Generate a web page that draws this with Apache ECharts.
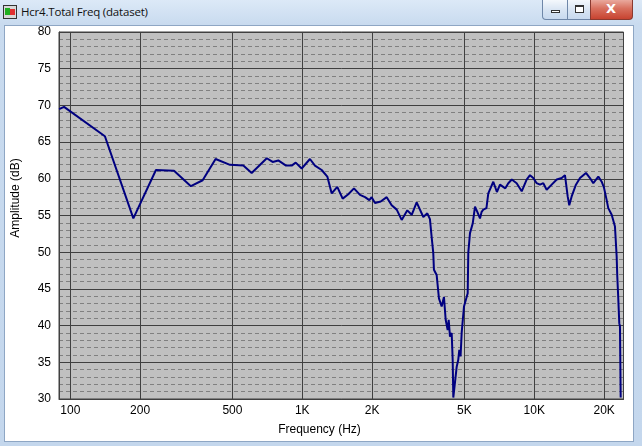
<!DOCTYPE html>
<html>
<head>
<meta charset="utf-8">
<script src="https://cdn.jsdelivr.net/npm/echarts@6/dist/echarts.min.js"></script>
<style>
  html,body{margin:0;padding:0;width:642px;height:446px;overflow:hidden;}
  body{background:linear-gradient(#dce9f7 0px,#c9dbef 24px,#c4d7ed 446px);position:relative;font-family:"Noto Sans","Liberation Sans",sans-serif;}
  #client{position:absolute;left:4px;top:25px;width:628px;height:415px;background:#fff;border:1px solid #8ea6c4;}
  #title{position:absolute;left:21px;top:4px;font-size:11.5px;letter-spacing:-0.2px;color:#111;font-family:"Open Sans","Noto Sans",sans-serif;}
  #icon{position:absolute;left:3px;top:5px;width:12px;height:12px;border:1px solid #333;background:#d8d8d8;}
  #icon:before{content:"";position:absolute;left:1px;top:2px;width:5px;height:7px;background:#20b020;}
  #icon:after{content:"";position:absolute;left:6px;top:3px;width:5px;height:6px;background:#e03030;}
  .btn{position:absolute;top:0px;height:20px;border:1px solid #6f87a8;border-top:none;background:linear-gradient(#f4f8fc,#d9e5f3 50%,#c8d9ee);box-sizing:border-box;}
  #bmin{left:542px;width:26px;border-radius:0 0 0 4px;}
  #bmax{left:567px;width:24px;}
  #bclose{left:590px;width:43px;border-radius:0 0 4px 0;background:linear-gradient(#e9a99d,#d8705e 45%,#c74330);border-color:#8a3a30;}
  #bmin:after{content:"";position:absolute;left:8px;top:10px;width:9px;height:3px;border:1px solid #333;background:#fff;box-sizing:border-box;}
  #bmax:after{content:"";position:absolute;left:7px;top:5px;width:9px;height:8px;border:1px solid #333;border-top-width:2px;background:#fff;box-sizing:border-box;}
  #bclose span{position:absolute;left:15px;top:1px;color:#fff;font:bold 13px "DejaVu Sans",sans-serif;}
  #chart{position:absolute;left:0;top:0;width:642px;height:446px;}
</style>
</head>
<body>
<div id="icon"></div>
<div id="title">Hcr4.Total Freq (dataset)</div>
<div class="btn" id="bmin"></div>
<div class="btn" id="bmax"></div>
<div class="btn" id="bclose"><span>X</span></div>
<div id="client"></div>
<div id="chart"></div>
<script>
// Frequency (Hz)
const freq = [89.5, 94, 141, 187, 234, 280, 331, 372, 423, 488, 557, 605, 703, 745, 788, 851, 900, 937, 994,
  1079, 1134, 1212, 1282, 1339, 1415, 1493, 1579, 1670, 1773, 1864, 1945, 1990, 2058, 2178, 2311, 2428, 2553,
  2682, 2836, 2962, 3112, 3324, 3459, 3550, 3612, 3669, 3694, 3794, 3882, 3988, 4080, 4150, 4233, 4276, 4331,
  4405, 4449, 4476, 4552, 4630, 4700, 4751, 4810, 4864, 4977, 5050, 5164, 5194, 5283, 5427, 5552, 5680, 5834,
  5930, 6029, 6220, 6335, 6658, 6900, 7115, 7500, 7727, 8000, 8395, 8826, 9270, 9583, 9900, 10240, 10580,
  10935, 11307, 11885, 12494, 13130, 13560, 13930, 14150, 14490, 15120, 15740, 16700, 17380, 17960, 18880,
  19520, 19970, 20510, 20840, 21560, 22270, 22650, 22790, 23000, 23250, 23400, 23570];
// Amplitude (dB)
const amplitude = [69.5, 69.8, 65.8, 54.6, 61.2, 61.1, 59.0, 59.8, 62.7, 61.9, 61.8, 60.8, 62.8, 62.3, 62.5, 61.8, 61.8, 62.2, 61.4,
  62.7, 61.8, 61.2, 60.3, 58.0, 58.9, 57.3, 57.9, 58.7, 57.8, 57.5, 57.1, 57.5, 56.7, 56.9, 57.5, 56.4, 55.8,
  54.4, 55.7, 55.1, 56.8, 54.8, 55.3, 54.5, 52.0, 49.9, 47.6, 46.9, 43.7, 42.6, 43.9, 40.8, 39.4, 40.8, 38.5,
  39.0, 35.3, 30.2, 30.2, 34.4, 35.3, 36.7, 35.8, 39.0, 42.6, 42.4, 44.4, 49.9, 52.6, 53.9, 56.2, 55.5, 54.6,
  55.5, 55.8, 56.0, 58.0, 59.6, 58.2, 59.2, 58.7, 59.4, 59.9, 59.4, 58.3, 59.9, 60.5, 60.1, 59.4, 59.2,
  59.4, 58.5, 59.2, 59.9, 60.1, 60.5, 57.6, 56.4, 57.6, 59.2, 60.1, 60.8, 60.1, 59.4, 60.3,
  59.6, 58.8, 57.1, 56.0, 55.1, 53.5, 49.4, 46.7, 43.9, 40.3, 39.9, 30.2];
// Tick labels
const xTicks = [100, 200, 500, 1000, 2000, 5000, 10000, 20000];
const xTickLabels = ['100', '200', '500', '1K', '2K', '5K', '10K', '20K'];
const yMin = 30, yMax = 80, yStep = 5;
const xMin = 89.4, xMax = 24240;

const chart = echarts.init(document.getElementById('chart'), null, {renderer: 'canvas'});
const font = '"Liberation Sans", Arial, sans-serif';
chart.setOption({
  backgroundColor: 'transparent',
  animation: false,
  grid: {left: 59, right: 18.5, top: 32, bottom: 47, show: true, backgroundColor: '#c0c0c0', borderColor: '#404040', borderWidth: 1},
  xAxis: {
    type: 'log', logBase: 10, min: xMin, max: xMax,
    axisLine: {show: true, onZero: false, lineStyle: {color: '#404040', width: 1}},
    axisTick: {show: false, customValues: xTicks},
    axisLabel: {customValues: xTicks, margin: 6, color: '#000', fontFamily: font, fontSize: 12,
      formatter: v => { const i = xTicks.findIndex(t => Math.abs(t - v) / t < 1e-6); return i >= 0 ? xTickLabels[i] : ''; }},
    splitLine: {show: true, lineStyle: {color: '#404040', width: 1, type: 'solid'}},
    minorTick: {show: false}, minorSplitLine: {show: false}
  },
  yAxis: {
    type: 'value', min: yMin, max: yMax, interval: yStep,
    axisLine: {show: true, lineStyle: {color: '#404040'}},
    axisTick: {show: false},
    axisLabel: {margin: 8, color: '#000', fontFamily: font, fontSize: 12},
    splitLine: {show: true, lineStyle: {color: '#404040', width: 1}},
    minorTick: {show: false, splitNumber: 5},
    minorSplitLine: {show: true, lineStyle: {color: '#808080', width: 1, type: [4, 3]}}
  },
  graphic: [
    {type: 'text', rotation: Math.PI / 2, x: 16, y: 198,
      style: {text: 'Amplitude (dB)', fill: '#000', font: '12px ' + font, align: 'center', verticalAlign: 'middle'}},
    {type: 'text', x: 319.5, y: 430,
      style: {text: 'Frequency (Hz)', fill: '#000', font: '12px ' + font, align: 'center', verticalAlign: 'middle'}}
  ],
  series: [{
    type: 'line', data: freq.map((f, i) => [f, amplitude[i]]),
    showSymbol: false, symbol: 'none', smooth: false, clip: true,
    lineStyle: {color: '#000080', width: 2}
  }]
});
</script>
</body>
</html>
